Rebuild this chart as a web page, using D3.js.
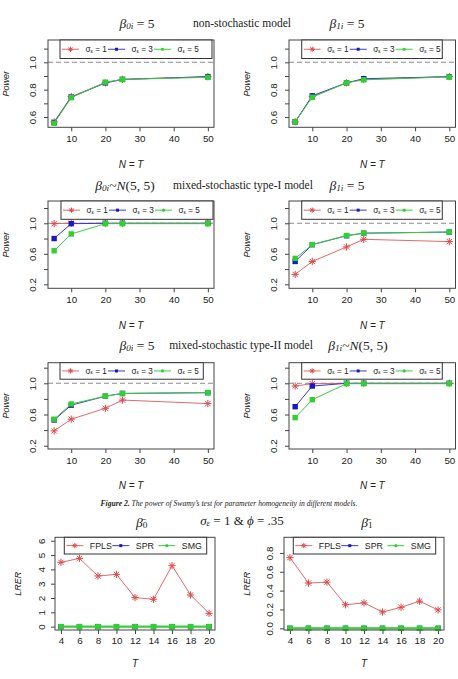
<!DOCTYPE html>
<html lang="en">
<head>
<meta charset="utf-8">
<title>Power of Swamy's test</title>
<script src="https://cdn.jsdelivr.net/npm/d3@7"></script>
<style>
  body { margin: 0; background: #fff; }
  svg text { font-family: "Liberation Sans", Arial, sans-serif; fill: #222; }
  svg text.serif { font-family: "Liberation Serif", "DejaVu Serif", serif; }
</style>
</head>
<body>
<div id="chart"></div>
<script>
// x values
var nT = [5, 10, 20, 25, 50];
var tVals = [4, 6, 8, 10, 12, 14, 16, 18, 20];
var sigmaLevels = ["1", "3", "5"];
var methods = ["FPLS", "SPR", "SMG"];

// power of the test, one array per sigma_e (1, 3, 5)
var nonStochB0 = [
  [0.565, 0.750, 0.850, 0.875, 0.895],
  [0.560, 0.745, 0.850, 0.875, 0.895],
  [0.555, 0.742, 0.855, 0.875, 0.890]
];
var nonStochB1 = [
  [0.565, 0.750, 0.850, 0.875, 0.895],
  [0.565, 0.755, 0.850, 0.880, 0.895],
  [0.565, 0.745, 0.850, 0.872, 0.893]
];
var typeIB0 = [
  [0.995, 1.000, 1.000, 1.000, 1.000],
  [0.800, 0.995, 1.000, 1.000, 1.000],
  [0.640, 0.860, 0.995, 0.995, 0.995]
];
var typeIB1 = [
  [0.330, 0.500, 0.690, 0.790, 0.760],
  [0.500, 0.720, 0.837, 0.870, 0.885],
  [0.540, 0.720, 0.840, 0.870, 0.885]
];
var typeIIB0 = [
  [0.390, 0.540, 0.680, 0.785, 0.740],
  [0.530, 0.720, 0.835, 0.870, 0.880],
  [0.540, 0.735, 0.835, 0.870, 0.880]
];
var typeIIB1 = [
  [0.965, 0.995, 1.000, 1.000, 1.000],
  [0.700, 0.965, 1.000, 1.000, 1.000],
  [0.560, 0.790, 0.995, 0.995, 0.995]
];

// LRER by method (FPLS, SPR, SMG)
var lrerB0 = [
  [4.49, 4.77, 3.54, 3.65, 2.03, 1.91, 4.26, 2.21, 0.93],
  [0, 0, 0, 0, 0, 0, 0, 0, 0],
  [0, 0, 0, 0, 0, 0, 0, 0, 0]
];
var lrerB1 = [
  [0.75, 0.48, 0.49, 0.25, 0.27, 0.173, 0.223, 0.288, 0.195],
  [0, 0, 0, 0, 0, 0, 0, 0, 0],
  [0, 0, 0, 0, 0, 0, 0, 0, 0]
];

// tick values
var xTicksN = [10, 20, 30, 40, 50];
var powerTicksTop = [0.6, 0.7, 0.8, 0.9, 1.0, 1.1];
var powerLabelsTop = [0.6, 0.8, 1.0];
var powerTicksLow = [0.2, 0.4, 0.6, 0.8, 1.0, 1.2];
var powerLabelsLow = [0.2, 0.6, 1.0];
var lrerTicks0 = [0, 1, 2, 3, 4, 5, 6];
var lrerTicks1 = [0, 0.2, 0.4, 0.6, 0.8];

var colors = ["#e04848", "#1818c8", "#30d030"];
var lineColors = ["#e46a6a", "#3a3acc", "#3ccf3c"];

var W = 458, H = 679;
var svg = d3.select("#chart").append("svg")
  .attr("width", W).attr("height", H);

function starPath(r) {
  var d = r * 0.72;
  return "M" + (-r) + ",0H" + r + "M0," + (-r) + "V" + r +
    "M" + (-d) + "," + (-d) + "L" + d + "," + d +
    "M" + (-d) + "," + d + "L" + d + "," + (-d);
}

function drawMarker(g, i, cx, cy, legend) {
  if (i === 0) {
    g.append("path").attr("d", starPath(legend ? 2.6 : 3.6))
      .attr("transform", "translate(" + cx + "," + cy + ")")
      .attr("stroke", colors[0]).attr("stroke-width", 1).attr("fill", "none");
  } else if (i === 2 && legend) {
    g.append("circle").attr("cx", cx).attr("cy", cy).attr("r", 1.6)
      .attr("fill", colors[2]);
  } else {
    var s = legend ? 3 : 5.4;
    g.append("rect").attr("x", cx - s / 2).attr("y", cy - s / 2)
      .attr("width", s).attr("height", s).attr("fill", colors[i]);
  }
}

function drawPanel(cfg) {
  var g = svg.append("g");
  var x = d3.scaleLinear().domain(cfg.xDomain).range([cfg.box[0], cfg.box[2]]);
  var y = d3.scaleLinear().domain(cfg.yDomain).range([cfg.box[3], cfg.box[1]]);

  // dashed reference line at 1
  if (cfg.refLine) {
    g.append("line")
      .attr("x1", cfg.box[0]).attr("x2", cfg.box[2])
      .attr("y1", y(1)).attr("y2", y(1))
      .attr("stroke", "#8a8a8a").attr("stroke-width", 1.1)
      .attr("stroke-dasharray", "5,3");
  }

  // x axis
  var xa = g.append("g")
    .attr("transform", "translate(0," + cfg.box[3] + ")")
    .call(d3.axisBottom(x).tickValues(cfg.xTicks).tickSize(4).tickSizeOuter(0));
  xa.select(".domain").remove();
  xa.selectAll("line").attr("stroke", "#444");
  xa.selectAll("text").attr("y", cfg.xLabOff).attr("dy", "0.35em")
    .style("font-size", "9.8px").style("fill", "#222");

  // y axis
  var ya = g.append("g")
    .attr("transform", "translate(" + cfg.box[0] + ",0)")
    .call(d3.axisLeft(y).tickValues(cfg.yTicks).tickSize(4).tickSizeOuter(0)
      .tickFormat(function(d) {
        return cfg.yLabels.some(function(v) { return Math.abs(v - d) < 1e-9; })
          ? cfg.yFormat(d) : "";
      }));
  ya.select(".domain").remove();
  ya.selectAll("line").attr("stroke", "#444");
  ya.selectAll("text")
    .attr("x", null).attr("dy", null)
    .attr("text-anchor", "middle")
    .attr("dominant-baseline", "central")
    .attr("transform", "translate(" + (-cfg.yLabOff) + ",0) rotate(-90)")
    .style("font-size", "9.8px").style("fill", "#222");

  // series
  cfg.series.forEach(function(vals, i) {
    var pts = cfg.xs.map(function(xv, j) { return [xv, vals[j]]; });
    g.append("path")
      .attr("d", d3.line().x(function(d) { return x(d[0]); }).y(function(d) { return y(d[1]); })(pts))
      .attr("fill", "none")
      .attr("stroke", lineColors[i])
      .attr("stroke-width", cfg.thickZero && i === 2 ? 2.2 : 1);
    pts.forEach(function(p) { drawMarker(g, i, x(p[0]), y(p[1]), false); });
  });

  // box
  g.append("rect")
    .attr("x", cfg.box[0]).attr("y", cfg.box[1])
    .attr("width", cfg.box[2] - cfg.box[0]).attr("height", cfg.box[3] - cfg.box[1])
    .attr("fill", "none").attr("stroke", "#444").attr("stroke-width", 1);

  // legend
  var lg = g.append("g");
  lg.append("rect")
    .attr("x", cfg.legend[0]).attr("y", cfg.box[1])
    .attr("width", cfg.legend[1]).attr("height", cfg.legend[2])
    .attr("fill", "#fff").attr("stroke", "#333").attr("stroke-width", 1);
  var ly = cfg.box[1] + cfg.legend[2] / 2;
  cfg.legendLabels.forEach(function(lab, i) {
    var x0 = cfg.legend[0] + 2 + i * 46;
    lg.append("line").attr("x1", x0).attr("x2", x0 + 17)
      .attr("y1", ly).attr("y2", ly)
      .attr("stroke", lineColors[i]).attr("stroke-width", 1);
    drawMarker(lg, i, x0 + 8.5, ly, true);
    var t = lg.append("text").attr("x", x0 + 23.5).attr("y", ly)
      .attr("dominant-baseline", "central");
    if (cfg.sigmaLegend) {
      t.style("font-size", "8.2px");
      t.append("tspan").text("σ");
      t.append("tspan").attr("dy", 1.5).style("font-size", "5.5px").text("ε");
      t.append("tspan").attr("dy", -1.5).text(" = " + lab);
    } else {
      t.style("font-size", "8.8px").text(lab);
    }
  });

  // axis titles
  var cx = (cfg.box[0] + cfg.box[2]) / 2, cy = (cfg.box[1] + cfg.box[3]) / 2;
  g.append("text").attr("x", cx).attr("y", cfg.box[3] + cfg.xTitleOff)
    .attr("text-anchor", "middle").attr("dominant-baseline", "central")
    .style("font-size", "10px").style("font-style", "italic")
    .text(cfg.xTitle);
  g.append("text")
    .attr("transform", "translate(" + (cfg.box[0] - cfg.yTitleOff) + "," + cy + ") rotate(-90)")
    .attr("text-anchor", "middle").attr("dominant-baseline", "central")
    .style("font-size", "9px").style("font-style", "italic")
    .text(cfg.yTitle);
}

var fmt1 = d3.format(".1f");
var powerBase = {
  xs: nT, xDomain: [3.2, 51.8], xTicks: xTicksN,
  xLabOff: 11.5, xTitleOff: 36.7, yLabOff: 16, yTitleOff: 42.5,
  yFormat: fmt1, refLine: true, sigmaLegend: true,
  legendLabels: sigmaLevels, xTitle: "N = T", yTitle: "Power"
};
function powerPanel(o) { return Object.assign({}, powerBase, o); }

var L = [48, 214], R = [289, 455.5];
var panels = [
  powerPanel({ box: [L[0], 40, L[1], 127.3], yDomain: [0.525, 1.163],
    yTicks: powerTicksTop, yLabels: powerLabelsTop, series: nonStochB0, legend: [60, 152, 18.5] }),
  powerPanel({ box: [R[0], 40, R[1], 127.3], yDomain: [0.525, 1.163],
    yTicks: powerTicksTop, yLabels: powerLabelsTop, series: nonStochB1, legend: [301.7, 140.6, 18.5] }),
  powerPanel({ box: [L[0], 201, L[1], 288.3], yDomain: [0.148, 1.292],
    yTicks: powerTicksLow, yLabels: powerLabelsLow, series: typeIB0, legend: [61, 152, 18.3] }),
  powerPanel({ box: [R[0], 201, R[1], 288.3], yDomain: [0.148, 1.292],
    yTicks: powerTicksLow, yLabels: powerLabelsLow, series: typeIB1, legend: [301.7, 140.6, 18.3] }),
  powerPanel({ box: [L[0], 362.7, L[1], 449], yDomain: [0.158, 1.264],
    yTicks: powerTicksLow, yLabels: powerLabelsLow, series: typeIIB0, legend: [60, 143.3, 16.5] }),
  powerPanel({ box: [R[0], 362.7, R[1], 449], yDomain: [0.158, 1.264],
    yTicks: powerTicksLow, yLabels: powerLabelsLow, series: typeIIB1, legend: [301.7, 140.6, 16.5] }),
  { box: [55, 537.3, 215, 630], xs: tVals, xDomain: [3.36, 20.64], xTicks: tVals,
    yDomain: [-0.235, 6.24], yTicks: lrerTicks0, yLabels: lrerTicks0, yFormat: d3.format("d"),
    xLabOff: 10.3, xTitleOff: 33.3, yLabOff: 13.5, yTitleOff: 37,
    series: lrerB0, legend: [64.3, 142.4, 16.7], legendLabels: methods, thickZero: true,
    xTitle: "T", yTitle: "LRER" },
  { box: [284, 537.3, 444, 630], xs: tVals, xDomain: [3.36, 20.64], xTicks: tVals,
    yDomain: [-0.018, 0.966], yTicks: lrerTicks1, yLabels: lrerTicks1, yFormat: fmt1,
    xLabOff: 10.3, xTitleOff: 33.3, yLabOff: 15, yTitleOff: 37,
    series: lrerB1, legend: [293.3, 142.4, 16.7], legendLabels: methods, thickZero: true,
    xTitle: "T", yTitle: "LRER" }
];
panels.forEach(drawPanel);

// row titles
function mathText(x, y, parts, size) {
  var t = svg.append("text").attr("class", "serif")
    .attr("x", x).attr("y", y).attr("text-anchor", "middle")
    .attr("dominant-baseline", "central").style("font-size", size + "px");
  parts.forEach(function(p) {
    var s = t.append("tspan").text(p.t);
    if (p.it) s.style("font-style", "italic");
    if (p.sub) s.attr("dy", 3).style("font-size", (size * 0.68) + "px");
    if (p.up) s.attr("dy", -3);
  });
  return t;
}
var b0i = [{ t: "β", it: true }, { t: "0i", sub: true, it: true }];
var b1i = [{ t: "β", it: true }, { t: "1i", sub: true, it: true }];
var eq5 = [{ t: " = 5", up: true }];
var norm55 = [{ t: "~", up: true }, { t: "N", it: true }, { t: "(5, 5)" }];

mathText(137, 23, b0i.concat(eq5), 13.5);
mathText(242, 23, [{ t: "non-stochastic model" }], 11.5);
mathText(347, 23, b1i.concat(eq5), 13.5);

mathText(125, 185, b0i.concat(norm55), 13.5);
mathText(243, 185, [{ t: "mixed-stochastic type-I model" }], 11.5);
mathText(347, 185, b1i.concat(eq5), 13.5);

mathText(137, 345, b0i.concat(eq5), 13.5);
mathText(241, 345, [{ t: "mixed-stochastic type-II model" }], 11.5);
mathText(358, 345, b1i.concat(norm55), 13.5);

mathText(141.7, 522, [{ t: "β\u0304", it: true }, { t: "0", sub: true }], 13.5);
mathText(242, 520, [{ t: "σ", it: true }, { t: "ε", sub: true, it: true },
  { t: " = 1  &  ", up: true }, { t: "ϕ", it: true }, { t: " = .35" }], 13);
mathText(367, 522, [{ t: "β\u0304", it: true }, { t: "1", sub: true }], 13.5);

// caption
var cap = svg.append("text").attr("class", "serif")
  .attr("x", 229).attr("y", 503).attr("text-anchor", "middle")
  .attr("dominant-baseline", "central")
  .style("font-size", "7.6px").style("font-style", "italic");
cap.append("tspan").style("font-weight", "bold").text("Figure 2.");
cap.append("tspan").text(" The power of Swamy\u2019s test for parameter homogeneity in different models.");
</script>
</body>
</html>
